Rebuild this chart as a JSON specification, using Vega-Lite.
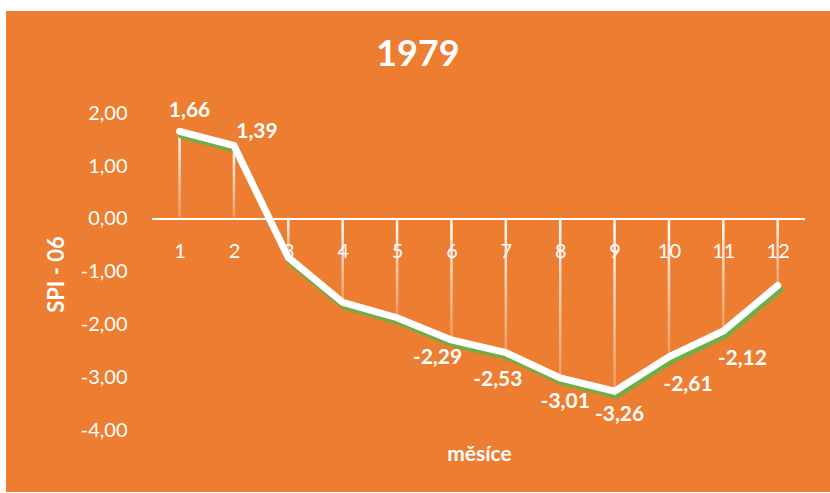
{
  "$schema": "https://vega.github.io/schema/vega-lite/v6.json",
  "width": 824,
  "height": 481,
  "autosize": "none",
  "padding": {"left": 6, "top": 11, "right": 0, "bottom": 1},
  "background": "white",
  "title": {
    "text": "1979",
    "color": "white",
    "font": "Lato",
    "fontSize": 36,
    "fontWeight": "bold",
    "anchor": "middle",
    "frame": "group",
    "baseline": "alphabetic",
    "offset": -91
  },
  "data": {
    "values": [
      {"month": 1, "spi": 1.66},
      {"month": 2, "spi": 1.39},
      {"month": 3, "spi": -0.73},
      {"month": 4, "spi": -1.58},
      {"month": 5, "spi": -1.87},
      {"month": 6, "spi": -2.29},
      {"month": 7, "spi": -2.53},
      {"month": 8, "spi": -3.01},
      {"month": 9, "spi": -3.26},
      {"month": 10, "spi": -2.61},
      {"month": 11, "spi": -2.12},
      {"month": 12, "spi": -1.26}
    ]
  },
  "encoding": {
    "x": {
      "field": "month",
      "type": "quantitative",
      "scale": {"domain": [-2.1, 12.87], "nice": false, "zero": false},
      "axis": {
        "orient": "bottom",
        "offset": -273,
        "values": [1, 2, 3, 4, 5, 6, 7, 8, 9, 10, 11, 12],
        "format": "d",
        "domain": false,
        "ticks": false,
        "grid": false,
        "labelPadding": 22,
        "labelFont": "Lato",
        "labelFontSize": 20,
        "labelColor": "white",
        "labelFlush": false,
        "labelOverlap": false,
        "title": "měsíce",
        "titleFont": "Lato",
        "titleFontSize": 21,
        "titleFontWeight": "bold",
        "titleColor": "white",
        "titleX": 473,
        "titleY": 241,
        "titleBaseline": "alphabetic"
      }
    },
    "y": {
      "field": "spi",
      "type": "quantitative",
      "scale": {"domain": [-5.17, 3.939], "nice": false, "zero": false},
      "axis": {
        "orient": "left",
        "offset": -121,
        "values": [-4, -3, -2, -1, 0, 1, 2],
        "format": ".2f",
        "domain": false,
        "ticks": false,
        "grid": false,
        "labelPadding": 0,
        "labelFont": "Lato",
        "labelFontSize": 20,
        "labelColor": "white",
        "labelFlush": false,
        "labelOverlap": false,
        "labelBaseline": "middle",
        "title": "SPI - 06",
        "titleFont": "Lato",
        "titleFontSize": 22,
        "titleFontWeight": "bold",
        "titleColor": "white",
        "titleX": -64,
        "titleY": 263,
        "titleBaseline": "alphabetic"
      }
    }
  },
  "layer": [
    {
      "mark": {
        "type": "bar",
        "width": 2.5,
        "stroke": null,
        "fill": {
          "gradient": "linear",
          "x1": 0, "y1": 0, "x2": 0, "y2": 1,
          "stops": [
            {"offset": 0, "color": "rgba(255,255,255,1)"},
            {"offset": 1, "color": "rgba(255,255,255,0.22)"}
          ]
        }
      },
      "encoding": {"y2": {"datum": 0}}
    },
    {
      "mark": {"type": "rule", "color": "white", "strokeWidth": 2},
      "encoding": {
        "x": {"datum": 0.5},
        "x2": {"datum": 12.5},
        "y": {"datum": 0}
      }
    },
    {
      "mark": {
        "type": "line",
        "color": "#70AD47",
        "strokeWidth": 7,
        "xOffset": 2,
        "yOffset": 4,
        "strokeCap": "round",
        "strokeJoin": "miter"
      },
      "encoding": {}
    },
    {
      "mark": {
        "type": "line",
        "color": "white",
        "strokeWidth": 7,
        "strokeCap": "round",
        "strokeJoin": "miter"
      },
      "encoding": {}
    },
    {
      "transform": [{"filter": "datum.month == 1"}],
      "mark": {"type": "text", "color": "white", "font": "Lato", "fontSize": 21, "fontWeight": "bold", "baseline": "middle", "dx": 10, "dy": -20},
      "encoding": {"text": {"field": "spi", "type": "quantitative", "format": ".2f"}}
    },
    {
      "transform": [{"filter": "datum.month == 2"}],
      "mark": {"type": "text", "color": "white", "font": "Lato", "fontSize": 21, "fontWeight": "bold", "baseline": "middle", "dx": 23, "dy": -14},
      "encoding": {"text": {"field": "spi", "type": "quantitative", "format": ".2f"}}
    },
    {
      "transform": [{"filter": "datum.month == 6"}],
      "mark": {"type": "text", "color": "white", "font": "Lato", "fontSize": 21, "fontWeight": "bold", "baseline": "middle", "dx": -14, "dy": 18},
      "encoding": {"text": {"field": "spi", "type": "quantitative", "format": ".2f"}}
    },
    {
      "transform": [{"filter": "datum.month == 7"}],
      "mark": {"type": "text", "color": "white", "font": "Lato", "fontSize": 21, "fontWeight": "bold", "baseline": "middle", "dx": -8, "dy": 27},
      "encoding": {"text": {"field": "spi", "type": "quantitative", "format": ".2f"}}
    },
    {
      "transform": [{"filter": "datum.month == 8 || datum.month == 9"}],
      "mark": {"type": "text", "color": "white", "font": "Lato", "fontSize": 21, "fontWeight": "bold", "baseline": "middle", "dx": 5, "dy": 24},
      "encoding": {"text": {"field": "spi", "type": "quantitative", "format": ".2f"}}
    },
    {
      "transform": [{"filter": "datum.month == 10 || datum.month == 11"}],
      "mark": {"type": "text", "color": "white", "font": "Lato", "fontSize": 21, "fontWeight": "bold", "baseline": "middle", "dx": 19, "dy": 28},
      "encoding": {"text": {"field": "spi", "type": "quantitative", "format": ".2f"}}
    }
  ],
  "config": {
    "view": {"fill": "#ED7D31", "stroke": null},
    "locale": {
      "number": {
        "decimal": ",",
        "thousands": " ",
        "grouping": [3],
        "currency": ["", " Kč"],
        "minus": "-"
      }
    }
  }
}
